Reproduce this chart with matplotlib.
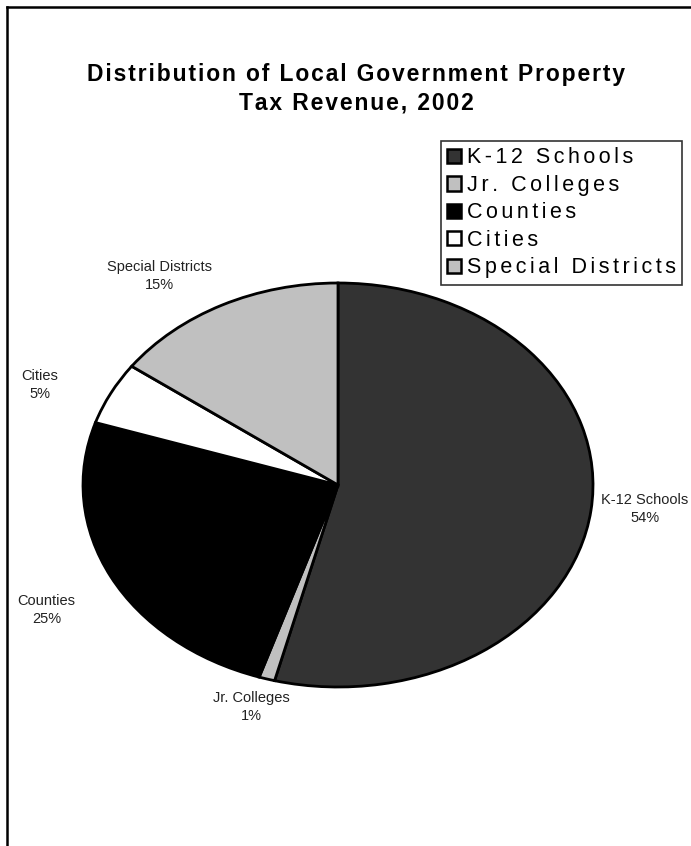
import matplotlib
matplotlib.use("Agg")
import matplotlib.pyplot as plt
from matplotlib.lines import Line2D
from matplotlib.patches import Patch
import numpy as np

categories = ["K-12 Schools", "Jr. Colleges", "Counties", "Cities", "Special Districts"]
values = [54, 1, 25, 5, 15]
colors = ["#333333", "#c0c0c0", "#000000", "#ffffff", "#c0c0c0"]
title = "Distribution of Local Government Property\nTax Revenue, 2002"

# label placement (style): radial distance and angular nudge in degrees
label_dist = [1.21, 1.15, 1.30, 1.27, 1.25]
label_nudge = [1.5, -1.0, 1.5, 4.0, 7.0]

plt.rcParams['font.family'] = ['Liberation Sans', 'DejaVu Sans']


def spaced(s, sep="\u200a\u200a"):
    # emulate the wide letter spacing of the original with hair spaces
    return "\n".join(sep.join(line) for line in s.split("\n"))


W, H = 691, 846
fig = plt.figure(figsize=(W / 100, H / 100), dpi=100)
fig.patch.set_facecolor("white")

cx, cy, rx, ry = 338, 485, 255, 202
ax = fig.add_axes([(cx - rx) / W, 1 - (cy + ry) / H, 2 * rx / W, 2 * ry / H])
wedges, _ = ax.pie(values, colors=colors, startangle=90, counterclock=False,
                   wedgeprops=dict(edgecolor="black", linewidth=2.0))
ax.set_aspect('auto')
ax.set_xlim(-1, 1)
ax.set_ylim(-1, 1)
ax.axis('off')

for w, cat, v, d, n in zip(wedges, categories, values, label_dist, label_nudge):
    th = np.deg2rad((w.theta1 + w.theta2) / 2 + n)
    ax.text(d * np.cos(th), d * np.sin(th), f"{cat}\n{v}%", ha='center', va='center',
            fontsize=10.5, color="#222222", linespacing=1.35, clip_on=False, zorder=5)

fig.text(356 / W, 1 - 89 / H, spaced(title, "\u200a"), ha='center', va='center',
         fontsize=16.5, fontweight='bold', linespacing=1.3)

handles = [Patch(facecolor=c, edgecolor="black", linewidth=1.8) for c in colors]
leg = fig.legend(handles, [spaced(c) for c in categories], loc='upper right',
                 bbox_to_anchor=(682 / W, 1 - 141 / H), fontsize=15.5,
                 frameon=True, fancybox=False, handlelength=0.65, handleheight=0.65,
                 handletextpad=0.25, labelspacing=0.3, borderpad=0.3, borderaxespad=0)
leg.get_frame().set_edgecolor("black")
leg.get_frame().set_linewidth(1.2)

fig.add_artist(Line2D([7 / W, 7 / W], [0, 1 - 7 / H], color="black", linewidth=1.8,
                      transform=fig.transFigure))
fig.add_artist(Line2D([7 / W, 1], [1 - 7 / H, 1 - 7 / H], color="black", linewidth=1.8,
                      transform=fig.transFigure))

fig.savefig("out.png", dpi=100)
